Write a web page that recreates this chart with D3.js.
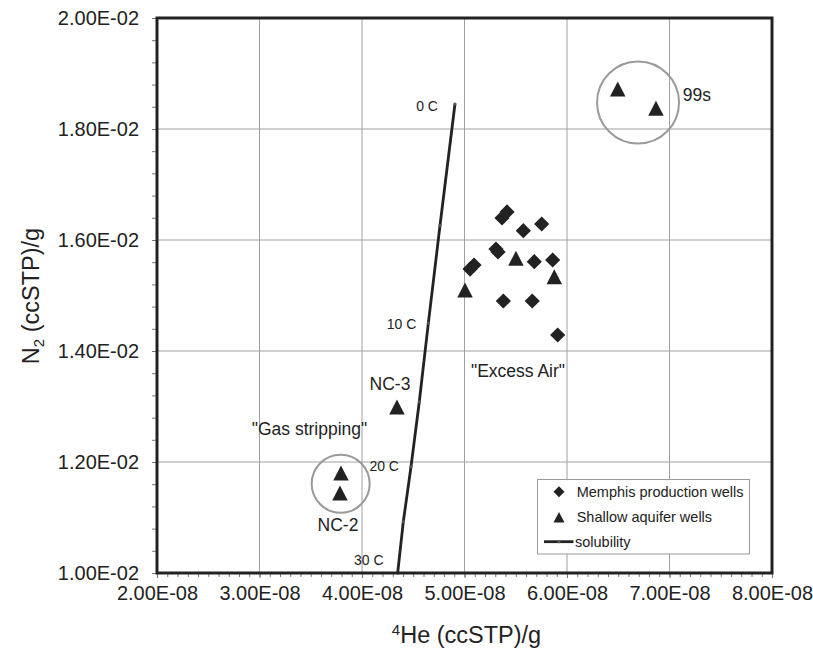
<!DOCTYPE html>
<html>
<head>
<meta charset="utf-8">
<script src="https://cdn.jsdelivr.net/npm/d3@7"></script>
<style>
  html, body { margin: 0; padding: 0; background: #fff; }
  svg { display: block; font-family: "Liberation Sans", Arial, sans-serif; }
</style>
</head>
<body>
<svg id="chart" width="813" height="648"></svg>
<script>
// ---- data ----
const xTicks = [2e-8, 3e-8, 4e-8, 5e-8, 6e-8, 7e-8, 8e-8];
const yTicks = [0.010, 0.012, 0.014, 0.016, 0.018, 0.020];
const xTickLabels = ["2.00E-08", "3.00E-08", "4.00E-08", "5.00E-08", "6.00E-08", "7.00E-08", "8.00E-08"];
const yTickLabels = ["1.00E-02", "1.20E-02", "1.40E-02", "1.60E-02", "1.80E-02", "2.00E-02"];

// Memphis production wells (He, N2)
const memphisHe = [5.415e-8, 5.366e-8, 5.574e-8, 5.753e-8, 5.307e-8, 5.327e-8, 5.681e-8, 5.860e-8, 5.093e-8, 5.054e-8, 5.379e-8, 5.661e-8, 5.909e-8];
const memphisN2 = [0.016505, 0.016396, 0.016168, 0.016288, 0.015838, 0.015784, 0.015609, 0.015640, 0.015550, 0.015477, 0.014901, 0.014901, 0.014288];

// Shallow aquifer wells
const shallowHe = [5.005e-8, 5.502e-8, 5.876e-8, 6.495e-8, 6.868e-8, 4.341e-8, 3.795e-8, 3.785e-8];
const shallowN2 = [0.015099, 0.015670, 0.015339, 0.018721, 0.018373, 0.012991, 0.011802, 0.011441];

// Solubility curve, 0-30 C every 5 C
const solTemp = [0, 5, 10, 15, 20, 25, 30];
const solHe = [4.907e-8, 4.761e-8, 4.647e-8, 4.559e-8, 4.478e-8, 4.403e-8, 4.348e-8];
const solN2 = [0.018450, 0.016261, 0.014499, 0.013086, 0.011915, 0.010924, 0.010000];
const solLabels = ["0 C", "", "10 C", "", "20 C", "", "30 C"];

// Annotations
const noteText = ["\"Excess Air\"", "\"Gas stripping\"", "NC-3", "NC-2", "99s"];
const noteHe = [5.522e-8, 3.488e-8, 4.273e-8, 3.766e-8, 7.129e-8];
const noteN2 = [0.01364, 0.012589, 0.013405, 0.010865, 0.018613];
const circleHe = [6.693e-8, 3.792e-8];
const circleN2 = [0.018477, 0.011607];

const legendLabels = ["Memphis production wells", "Shallow aquifer wells", "solubility"];

// ---- layout ----
const svg = d3.select("#chart");
const L = 157, R = 772, T = 18, B = 573;
const x = d3.scaleLinear().domain([2e-8, 8e-8]).range([L, R]);
const y = d3.scaleLinear().domain([0.010, 0.020]).range([B, T]);
const ink = "#222";

// gridlines
const g = svg.append("g");
g.selectAll("line.vg").data(xTicks.slice(1, -1)).enter().append("line")
  .attr("x1", d => x(d)).attr("x2", d => x(d)).attr("y1", T).attr("y2", B)
  .attr("stroke", "#a0a0a0").attr("stroke-width", 1);
g.selectAll("line.hg").data(yTicks.slice(1, -1)).enter().append("line")
  .attr("x1", L).attr("x2", R).attr("y1", d => y(d)).attr("y2", d => y(d))
  .attr("stroke", "#a0a0a0").attr("stroke-width", 1);

// axes
const xMinor = d3.range(0, 61).map(i => 2e-8 + i * 1e-9);
const yMinor = d3.range(0, 26).map(i => 0.010 + i * 0.0004);
const xAxis = d3.axisBottom(x).tickValues(xTicks).tickFormat((d, i) => xTickLabels[i]).tickSize(5).tickPadding(8);
const yAxis = d3.axisLeft(y).tickValues(yTicks).tickFormat((d, i) => yTickLabels[i]).tickSize(5).tickPadding(13);
const xMinorAxis = d3.axisBottom(x).tickValues(xMinor).tickFormat("").tickSize(4);
const yMinorAxis = d3.axisLeft(y).tickValues(yMinor).tickFormat("").tickSize(5);

function styleAxis(sel) {
  sel.attr("font-size", 20).attr("font-family", "'Liberation Sans', Arial, sans-serif");
  sel.select(".domain").remove();
  sel.selectAll(".tick line").attr("stroke", "#777");
  sel.selectAll(".tick text").attr("fill", ink).style("font-size", "20px");
}
svg.append("g").attr("transform", `translate(0,${B})`).call(xMinorAxis).call(styleAxis);
svg.append("g").attr("transform", `translate(${L},0)`).call(yMinorAxis).call(styleAxis);
svg.append("g").attr("transform", `translate(0,${B})`).call(xAxis).call(styleAxis);
svg.append("g").attr("transform", `translate(${L},0)`).call(yAxis).call(styleAxis);

// annotation circles
svg.selectAll("circle.note").data(circleHe).enter().append("circle")
  .attr("cx", d => x(d)).attr("cy", (d, i) => y(circleN2[i]))
  .attr("r", (d, i) => i === 0 ? 41 : 29)
  .attr("fill", "none").attr("stroke", "#9a9a9a").attr("stroke-width", 2);

// solubility line
const line = d3.line().x((d, i) => x(solHe[i])).y((d, i) => y(solN2[i]));
svg.append("path").datum(solTemp).attr("d", line)
  .attr("fill", "none").attr("stroke", ink).attr("stroke-width", 2.8);
svg.selectAll("circle.sol").data(solTemp).enter().append("circle")
  .attr("cx", (d, i) => x(solHe[i])).attr("cy", (d, i) => y(solN2[i]))
  .attr("r", 1.6).attr("fill", "#555");
const lblOff = [[-17, 2], null, [-12, 1], null, [-12, -1], null, [-14, -13]];
svg.selectAll("text.sol").data(solTemp.filter((d, i) => solLabels[i])).enter().append("text")
  .each(function(d) {
    const i = solTemp.indexOf(d);
    d3.select(this).attr("x", x(solHe[i]) + lblOff[i][0]).attr("y", y(solN2[i]) + lblOff[i][1])
      .attr("dy", "0.35em").attr("text-anchor", "end").style("font-size", "14px").attr("fill", ink)
      .text(solLabels[i]);
  });

// markers
function diamond(h) { return `M0,${-h}L${h},0L0,${h}L${-h},0Z`; }
function tri(w, h) { return `M0,${-h / 2}L${w / 2},${h / 2}L${-w / 2},${h / 2}Z`; }

svg.selectAll("path.memphis").data(memphisHe).enter().append("path")
  .attr("d", diamond(7.6))
  .attr("transform", (d, i) => `translate(${x(d)},${y(memphisN2[i])})`)
  .attr("fill", ink);
svg.selectAll("path.shallow").data(shallowHe).enter().append("path")
  .attr("d", tri(15.5, 15))
  .attr("transform", (d, i) => `translate(${x(d)},${y(shallowN2[i])})`)
  .attr("fill", ink);

// annotation texts
svg.selectAll("text.note").data(noteText).enter().append("text")
  .attr("x", (d, i) => x(noteHe[i])).attr("y", (d, i) => y(noteN2[i]))
  .attr("dy", "0.35em")
  .attr("text-anchor", (d, i) => i === 4 ? "start" : "middle")
  .style("font-size", "17.5px").attr("fill", ink)
  .text(d => d);

// frame
svg.append("rect").attr("x", L).attr("y", T).attr("width", R - L).attr("height", B - T)
  .attr("fill", "none").attr("stroke", ink).attr("stroke-width", 3);

// legend
const lg = svg.append("g");
lg.append("rect").attr("x", 537.5).attr("y", 479.5).attr("width", 212).attr("height", 74.5)
  .attr("fill", "#fff").attr("stroke", "#9a9a9a").attr("stroke-width", 1);
const legY = [491.7, 517.3, 541.7];
lg.append("path").attr("d", diamond(5.5)).attr("transform", `translate(559,${legY[0]})`).attr("fill", ink);
lg.append("path").attr("d", tri(11, 10.5)).attr("transform", `translate(559,${legY[1]})`).attr("fill", ink);
lg.append("line").attr("x1", 544).attr("x2", 573.5).attr("y1", legY[2]).attr("y2", legY[2])
  .attr("stroke", ink).attr("stroke-width", 2.8);
lg.append("circle").attr("cx", 559).attr("cy", legY[2]).attr("r", 1.6).attr("fill", "#555");
lg.selectAll("text").data(legendLabels).enter().append("text")
  .attr("x", (d, i) => i === 2 ? 575 : 576.7).attr("y", (d, i) => legY[i]).attr("dy", "0.35em")
  .style("font-size", "14.5px").attr("fill", ink).text(d => d);

// axis titles
const xt = svg.append("text").attr("x", (L + R) / 2 + 2).attr("y", 643)
  .attr("text-anchor", "middle").style("font-size", "23.5px").attr("fill", ink);
xt.append("tspan").style("font-size", "15px").attr("dy", -8).text("4");
xt.append("tspan").attr("dy", 8).text("He (ccSTP)/g");

const yt = svg.append("text").attr("transform", "translate(39,296) rotate(-90)")
  .attr("text-anchor", "middle").style("font-size", "23.5px").attr("fill", ink);
yt.append("tspan").text("N");
yt.append("tspan").style("font-size", "15px").attr("dy", 5).text("2");
yt.append("tspan").attr("dy", -5).text(" (ccSTP)/g");
</script>
</body>
</html>
